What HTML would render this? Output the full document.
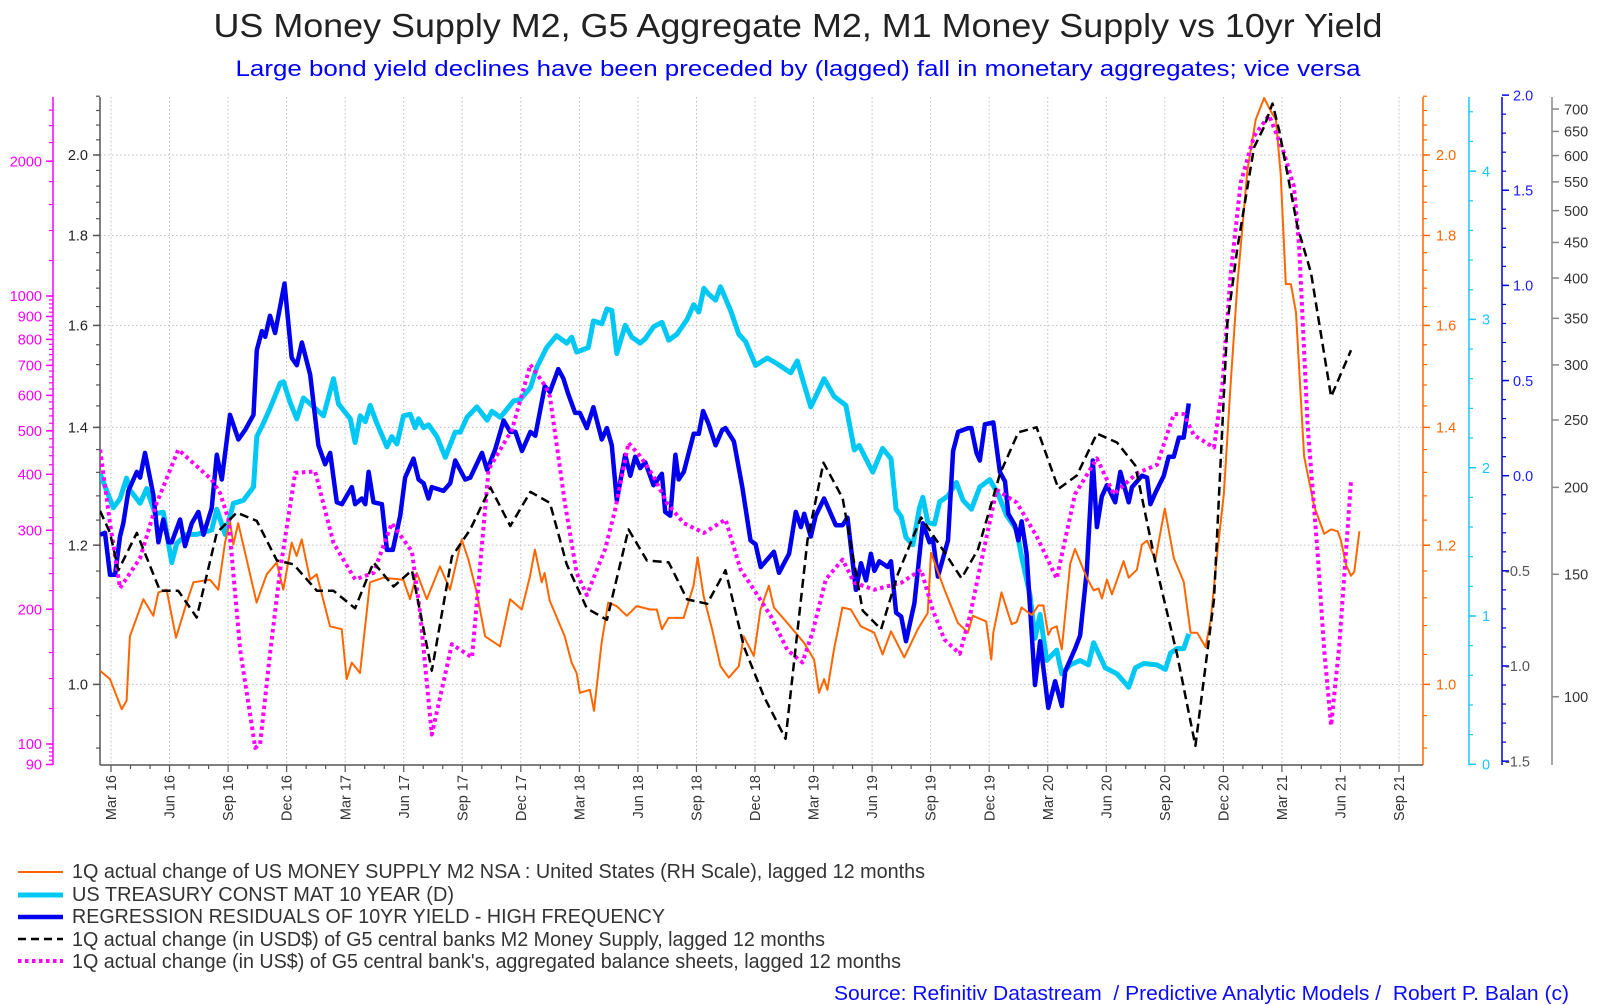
<!DOCTYPE html>
<html><head><meta charset="utf-8">
<style>
html,body{margin:0;padding:0;background:#fff;}
svg{display:block;font-family:"Liberation Sans",Arial,sans-serif;}
</style></head>
<body>
<svg id="chart" width="1600" height="1005" viewBox="0 0 1600 1005" xmlns="http://www.w3.org/2000/svg">
<rect x="0" y="0" width="1600" height="1005" fill="#fff"/>
<text x="798" y="37" text-anchor="middle" font-size="33" fill="#222" textLength="1169" lengthAdjust="spacingAndGlyphs">US Money Supply M2, G5 Aggregate M2, M1 Money Supply vs 10yr Yield</text>
<text x="798" y="76" text-anchor="middle" font-size="22" fill="#0000ff" textLength="1125" lengthAdjust="spacingAndGlyphs">Large bond yield declines have been preceded by (lagged) fall in monetary aggregates; vice versa</text>
<g id="grid"></g>
<g id="axes"></g>
<defs><clipPath id="plotclip"><rect x="100" y="96" width="1323" height="670"/></clipPath></defs>
<g id="series" clip-path="url(#plotclip)"></g>
<g id="legend">
  <line x1="18" y1="872" x2="63" y2="872" stroke="#ff6600" stroke-width="2"/>
  <text x="72" y="878" font-size="20.5" fill="#333" textLength="853" lengthAdjust="spacingAndGlyphs">1Q actual change of US MONEY SUPPLY M2 NSA : United States (RH Scale), lagged 12 months</text>
  <line x1="18" y1="895" x2="63" y2="895" stroke="#00c8f5" stroke-width="5"/>
  <text x="72" y="901" font-size="20.5" fill="#333" textLength="382" lengthAdjust="spacingAndGlyphs">US TREASURY CONST MAT 10 YEAR (D)</text>
  <line x1="18" y1="917" x2="63" y2="917" stroke="#0000ee" stroke-width="4.5"/>
  <text x="72" y="923" font-size="20.5" fill="#333" textLength="593" lengthAdjust="spacingAndGlyphs">REGRESSION RESIDUALS OF 10YR YIELD - HIGH FREQUENCY</text>
  <line x1="18" y1="939" x2="63" y2="939" stroke="#000" stroke-width="2.5" stroke-dasharray="8,5"/>
  <text x="72" y="946" font-size="20.5" fill="#333" textLength="753" lengthAdjust="spacingAndGlyphs">1Q actual change (in USD$) of G5 central banks M2 Money Supply, lagged 12 months</text>
  <line x1="18" y1="961" x2="63" y2="961" stroke="#ff00ff" stroke-width="4" stroke-dasharray="3.5,3.5"/>
  <text x="72" y="968" font-size="20.5" fill="#333" textLength="829" lengthAdjust="spacingAndGlyphs">1Q actual change (in US$) of G5 central bank's, aggregated balance sheets, lagged 12 months</text>
</g>
<text x="1569" y="1000" text-anchor="end" font-size="20" fill="#0a0aff" xml:space="preserve" style="white-space:pre" textLength="735" lengthAdjust="spacingAndGlyphs">Source: Refinitiv Datastream  / Predictive Analytic Models /  Robert P. Balan (c)</text>
</svg>
<script>
// ---- data: months since Mar-2016 and values ----
const quarterLabels = ["Mar 16","Jun 16","Sep 16","Dec 16","Mar 17","Jun 17","Sep 17","Dec 17","Mar 18","Jun 18","Sep 18","Dec 18","Mar 19","Jun 19","Sep 19","Dec 19","Mar 20","Jun 20","Sep 20","Dec 20","Mar 21","Jun 21","Sep 21"];
const leftTicks = [1.0,1.2,1.4,1.6,1.8,2.0];
const cyanTicks = [0,1,2,3,4];
const blueTicks = [2.0,1.5,1.0,0.5,0.0,-0.5,-1.0,-1.5];
const grayTicks = [700,650,600,550,500,450,400,350,300,250,200,150,100];
const magentaTicks = [2000,1000,900,800,700,600,500,400,300,200,100,90];

const orangeMonths = [-0.56,-0.05,0.55,0.80,0.97,1.66,2.17,2.43,2.85,3.33,3.88,4.22,5.07,5.50,5.84,6.10,6.27,6.52,6.95,7.46,7.98,8.49,8.83,9.26,9.51,9.77,10.20,10.54,11.22,11.82,12.08,12.34,12.76,13.27,13.96,14.98,15.32,15.67,16.18,16.86,17.37,17.97,18.31,18.74,19.17,19.94,20.45,21.05,21.47,21.72,22.07,22.22,22.48,23.25,23.60,23.86,24.03,24.54,24.75,25.14,25.48,25.91,26.43,26.94,27.63,27.97,28.23,28.57,29.34,29.85,30.06,30.37,30.80,31.23,31.66,32.17,32.42,32.94,33.28,33.71,33.97,34.65,35.51,36.03,36.28,36.54,36.71,37.05,37.48,37.91,38.42,39.11,39.54,39.97,40.65,41.34,41.85,42.02,42.71,43.39,43.91,44.16,44.85,45.11,45.21,45.63,46.15,46.41,46.66,47.18,47.52,47.78,48.03,48.20,48.46,48.72,49.15,49.40,50.00,50.35,50.60,50.78,51.03,51.29,51.89,52.15,52.57,52.83,53.09,53.52,54.00,54.46,54.97,55.32,55.66,56.09,56.35,56.69,57.03,57.37,57.72,58.23,58.66,59.09,59.43,59.69,59.94,60.20,60.46,60.72,61.14,61.66,62.17,62.52,62.86,63.03,63.29,63.54,63.71,63.97];
const orangeValues = [1.018,1.007,0.968,0.979,1.065,1.118,1.094,1.128,1.132,1.063,1.113,1.143,1.147,1.132,1.204,1.238,1.201,1.235,1.178,1.113,1.155,1.173,1.132,1.204,1.183,1.209,1.147,1.155,1.079,1.075,1.007,1.029,1.015,1.143,1.150,1.147,1.118,1.157,1.118,1.167,1.132,1.209,1.178,1.128,1.065,1.051,1.118,1.103,1.152,1.193,1.143,1.157,1.116,1.065,1.029,1.015,0.989,0.993,0.966,1.056,1.113,1.108,1.094,1.108,1.103,1.103,1.075,1.091,1.091,1.138,1.181,1.122,1.075,1.024,1.009,1.024,1.065,1.038,1.103,1.138,1.106,1.084,1.056,1.033,0.989,1.007,0.993,1.047,1.106,1.103,1.079,1.070,1.040,1.072,1.036,1.075,1.098,1.188,1.132,1.084,1.070,1.094,1.086,1.033,1.070,1.128,1.082,1.085,1.106,1.095,1.109,1.109,1.067,1.076,1.079,1.047,1.171,1.194,1.150,1.131,1.134,1.119,1.147,1.125,1.175,1.150,1.162,1.201,1.207,1.177,1.259,1.180,1.144,1.070,1.070,1.050,1.088,1.188,1.284,1.481,1.689,1.960,2.095,2.155,2.118,2.095,1.950,1.689,1.689,1.627,1.348,1.262,1.218,1.225,1.222,1.207,1.169,1.153,1.159,1.222];

const cyanMonths = [-0.56,0.12,0.46,0.80,0.97,1.49,1.83,2.26,2.68,3.11,3.37,3.88,4.39,5.16,5.42,5.85,6.27,6.79,7.30,7.47,7.81,8.15,8.67,8.84,9.18,9.52,9.86,10.21,10.55,10.89,11.40,11.66,12.26,12.51,12.77,13.03,13.28,13.62,14.14,14.39,14.65,14.99,15.33,15.59,15.76,16.02,16.27,16.70,17.13,17.64,17.90,18.24,18.75,19.27,19.52,19.95,20.63,20.97,21.49,21.83,22.32,22.83,23.35,23.61,23.86,24.46,24.72,25.15,25.41,25.66,25.92,26.35,26.69,27.12,27.38,27.80,28.23,28.58,29.00,29.52,29.86,30.12,30.38,30.63,30.98,31.23,31.75,32.17,32.52,33.03,33.63,34.15,34.83,35.17,35.43,35.86,36.54,37.06,37.66,38.09,38.34,39.03,39.54,39.97,40.23,40.49,40.74,41.09,41.43,41.60,41.86,42.20,42.46,42.89,43.32,43.66,44.09,44.52,45.03,45.46,45.89,46.41,46.66,47.09,47.35,47.61,47.95,48.46,48.72,49.15,49.66,50.09,50.35,50.95,51.55,52.15,52.49,52.92,53.60,54.03,54.29,54.63,54.97,55.23];
const cyanValues = [1.96,1.73,1.79,1.93,1.85,1.76,1.86,1.69,1.70,1.36,1.49,1.55,1.55,1.58,1.72,1.55,1.76,1.78,1.87,2.21,2.30,2.40,2.57,2.58,2.44,2.33,2.47,2.43,2.39,2.35,2.60,2.43,2.33,2.17,2.35,2.31,2.42,2.30,2.14,2.21,2.16,2.35,2.36,2.27,2.33,2.27,2.29,2.21,2.07,2.24,2.24,2.34,2.41,2.32,2.38,2.34,2.45,2.46,2.54,2.68,2.81,2.89,2.84,2.88,2.78,2.81,2.99,2.97,3.07,3.06,2.77,2.96,2.88,2.84,2.87,2.95,2.98,2.86,2.90,3.00,3.10,3.05,3.21,3.17,3.13,3.22,3.06,2.90,2.85,2.69,2.74,2.70,2.64,2.72,2.60,2.41,2.60,2.48,2.42,2.12,2.15,1.97,2.13,2.06,1.72,1.67,1.53,1.48,1.73,1.80,1.63,1.62,1.77,1.81,1.90,1.78,1.72,1.87,1.92,1.82,1.68,1.58,1.40,1.14,0.85,1.01,0.70,0.77,0.61,0.67,0.70,0.67,0.82,0.65,0.61,0.52,0.65,0.68,0.67,0.64,0.75,0.78,0.78,0.88];

const blueMonths = [-0.56,-0.31,-0.05,0.21,0.46,0.63,0.89,1.32,1.49,1.74,2.17,2.43,2.68,2.94,3.11,3.54,3.79,4.14,4.48,4.74,5.16,5.42,5.68,6.10,6.53,6.87,7.30,7.47,7.73,7.90,8.15,8.41,8.89,9.26,9.52,9.78,10.21,10.63,10.97,11.23,11.57,11.83,12.34,12.51,12.85,13.03,13.20,13.45,13.88,14.14,14.44,14.82,15.07,15.50,15.76,16.02,16.27,16.44,17.04,17.38,17.64,18.15,18.41,19.01,19.27,19.69,20.12,20.46,20.72,21.06,21.49,21.74,22.23,22.49,22.92,23.18,23.43,23.78,24.03,24.38,24.72,25.15,25.41,25.66,25.92,26.35,26.61,26.86,27.12,27.38,27.80,28.23,28.40,28.66,28.92,29.09,29.35,29.86,30.12,30.34,30.63,30.98,31.32,31.49,31.92,32.35,32.77,33.03,33.29,33.63,33.97,34.23,34.75,35.09,35.35,35.52,35.86,36.11,36.54,37.14,37.49,37.74,38.17,38.43,38.69,38.94,39.12,39.37,39.80,39.97,40.23,40.49,40.74,41.17,41.60,41.94,42.11,42.37,42.89,43.15,43.41,43.92,44.09,44.35,44.52,44.78,45.21,45.55,45.81,45.98,46.32,46.49,46.66,46.92,47.35,47.61,48.03,48.38,48.72,48.89,49.40,49.66,50.00,50.31,50.52,50.77,51.03,51.46,51.72,52.15,52.32,52.83,53.09,53.26,53.52,53.95,54.20,54.46,54.72,54.97,55.23];
const blueValues = [-0.31,-0.30,-0.52,-0.52,-0.32,-0.25,-0.08,0.02,-0.01,0.12,-0.10,-0.35,-0.23,-0.35,-0.35,-0.23,-0.37,-0.25,-0.19,-0.31,-0.17,0.11,-0.02,0.32,0.19,0.24,0.32,0.66,0.76,0.73,0.84,0.75,1.01,0.62,0.58,0.70,0.53,0.16,0.06,0.12,-0.14,-0.15,-0.06,-0.15,-0.12,-0.15,0.02,-0.14,-0.15,-0.39,-0.39,-0.21,-0.01,0.09,-0.02,-0.04,-0.12,-0.06,-0.08,-0.04,0.08,-0.02,-0.01,0.12,0.03,0.14,0.29,0.23,0.23,0.13,0.23,0.21,0.47,0.44,0.56,0.51,0.43,0.33,0.33,0.25,0.36,0.19,0.25,0.16,-0.13,0.11,0.00,0.10,0.04,0.07,-0.05,0.01,-0.19,-0.21,0.11,-0.02,0.02,0.22,0.22,0.34,0.27,0.16,0.24,0.25,0.18,-0.06,-0.34,-0.36,-0.48,-0.44,-0.40,-0.51,-0.41,-0.19,-0.27,-0.20,-0.32,-0.21,-0.12,-0.26,-0.26,-0.22,-0.60,-0.46,-0.55,-0.41,-0.50,-0.45,-0.48,-0.45,-0.72,-0.74,-0.87,-0.67,-0.25,-0.35,-0.33,-0.53,-0.34,0.13,0.23,0.25,0.25,0.12,0.08,0.27,0.28,0.02,-0.03,-0.20,-0.26,-0.34,-0.24,-0.41,-1.10,-0.87,-1.22,-1.08,-1.21,-1.03,-0.91,-0.84,-0.50,0.08,-0.27,-0.11,-0.05,-0.14,0.02,-0.14,-0.06,0.00,-0.01,-0.15,-0.09,0.00,0.10,0.10,0.20,0.20,0.38];

const blackMonths = [-0.56,-0.05,0.38,1.32,2.51,3.45,4.39,5.42,6.44,7.47,8.50,9.35,10.55,11.40,12.51,13.45,14.48,15.42,16.44,17.47,18.41,19.44,20.46,21.49,22.49,23.35,24.38,25.41,26.52,27.46,28.58,29.52,30.55,31.49,32.43,33.46,34.57,35.69,36.51,37.49,38.52,39.46,40.32,41.51,42.54,43.58,44.43,45.55,46.49,47.43,48.55,49.49,50.52,51.55,52.49,53.60,54.63,55.57,56.52,57.20,57.72,58.57,59.09,59.52,59.86,60.80,61.49,62.52,63.54];
const blackValues = [185,172,152,172,142,142,130,172,184,179,157,155,142,142,134,156,144,152,109,159,174,200,176,197,190,155,134,129,174,157,156,138,136,152,118,100,87,168,217,193,133,125,150,181,164,148,163,209,240,244,199,208,239,232,215,152,115,85,138,344,442,616,660,713,652,474,407,270,315];

const magentaMonths = [-0.56,-0.05,0.46,1.49,2.34,3.45,5.16,5.59,6.02,6.62,7.39,7.64,8.15,8.67,9.44,10.46,11.40,12.51,13.45,14.39,15.42,15.84,16.44,17.47,18.50,19.35,20.55,21.49,22.26,22.49,23.26,23.86,24.38,25.32,25.83,26.52,27.12,27.80,28.49,29.35,30.38,31.49,32.26,32.95,33.81,34.66,35.43,35.94,36.63,37.49,38.09,39.12,40.49,41.51,42.11,42.71,43.49,44.01,44.69,45.38,46.41,47.43,48.46,49.40,50.52,51.38,52.57,53.60,54.46,54.97,55.49,56.52,56.95,57.37,57.89,58.57,59.34,60.11,60.62,60.88,61.32,61.83,62.17,62.52,62.94,63.54];
const magentaValues = [454,311,223,260,345,454,389,363,317,162,98,100,159,245,403,406,281,233,241,311,269,196,105,167,156,410,503,703,629,597,345,241,215,272,333,470,439,396,345,311,296,317,245,221,193,162,152,177,233,258,229,221,229,245,199,171,159,193,267,369,346,291,234,361,434,361,402,420,545,545,489,459,634,1114,1791,2274,2532,2085,1754,1296,511,267,162,110,166,386];

// ---- scales ----
const NS = "http://www.w3.org/2000/svg";
const PL = 100, PR = 1423, PT = 97, PB = 765;
function xS(m){ return 111 + m*19.515; }
function yLeft(v){ return 684.4 - Math.log2(v)*529.4; }
function yCyan(v){ return 764.3 - v*148.3; }
function yBlue(v){ return 475.7 - v*190.3; }
function yGray(v){ return 696.7 - Math.log(v/100)*302; }
function yMag(v){ return 744 - Math.log10(v/100)*448; }

function mk(tag, attrs, parent){
  const e = document.createElementNS(NS, tag);
  for (const k in attrs) e.setAttribute(k, attrs[k]);
  parent.appendChild(e);
  return e;
}
const grid = document.getElementById('grid');
const axes = document.getElementById('axes');
const series = document.getElementById('series');

leftTicks.forEach(v => {
  const l = mk('line', {x1:PL, x2:PR, y1:yLeft(v), y2:yLeft(v), stroke:'#bdbdbd', 'stroke-width':1, 'stroke-dasharray':'1.5,2.5'}, grid);
  
  
});
quarterLabels.forEach((lab, i) => {
  const x = xS(i*3);
  const l = mk('line', {x1:x, x2:x, y1:PT, y2:PB, stroke:'#bdbdbd', 'stroke-width':1, 'stroke-dasharray':'1.5,2.5'}, grid);
  
  
});

const xa = mk('line', {x1:PL, x2:PR, y1:PB, y2:PB, stroke:'#555', 'stroke-width':1.5}, axes);


for (let m = 0; m <= 66; m++) {
  const x = xS(m);
  if (x > PR) break;
  const major = (m % 3 === 0);
  const t = mk('line', {x1:x, x2:x, y1:PB, y2:PB + (major ? 7 : 4), stroke:'#555', 'stroke-width':1.2}, axes);
  
  
}
quarterLabels.forEach((lab, i) => {
  const x = xS(i*3);
  const t = mk('text', {transform:`translate(${x},775) rotate(-90)`, 'text-anchor':'end', dy:'0.35em', 'font-size':'14.5', fill:'#333'}, axes);
  t.textContent = lab;
  
  
});

function vAxis(name, x, color, dir, ticksMajor, ticksMinor, yf, fmt, labelX, anchor, labelColor){
  const ln = mk('line', {x1:x, x2:x, y1:PT, y2:PB, stroke:color, 'stroke-width':1.5}, axes);
  
  
  ticksMinor.forEach(v => {
    const y = yf(v);
    if (y < PT-1 || y > PB+1) return;
    const t = mk('line', {x1:x, x2:x + dir*4, y1:y, y2:y, stroke:color, 'stroke-width':1.2}, axes);
    
    
  });
  ticksMajor.forEach(v => {
    const y = yf(v);
    const t = mk('line', {x1:x, x2:x + dir*7, y1:y, y2:y, stroke:color, 'stroke-width':1.5}, axes);
    
    
    const lc = (typeof labelColor === 'function') ? labelColor(v) : labelColor;
    const lx = (typeof labelX === 'function') ? labelX(v) : labelX;
    const tx = mk('text', {x:lx, y:y, dy:'0.36em', 'text-anchor':anchor, 'font-size':'14.5', fill:lc}, axes);
    tx.textContent = fmt(v);
    
    
  });
}
const leftMinor = [];
for (let v = 0.92; v <= 2.17; v += 0.04) leftMinor.push(+v.toFixed(2));
const magMinor = [];
for (let v = 90; v < 100; v += 2) magMinor.push(v);
for (let v = 100; v < 1000; v += 20) magMinor.push(v);
for (let v = 1000; v <= 2800; v += 200) magMinor.push(v);
const cyanMinor = [];
for (let v = 0; v <= 4.41; v += 0.2) cyanMinor.push(+v.toFixed(1));
const blueMinor = [];
for (let v = -1.5; v <= 2.0; v += 0.1) blueMinor.push(+v.toFixed(1));

vAxis('magenta-axis', 53, '#ff00ff', -1, magentaTicks, magMinor, yMag, v => String(v), 42, 'end', '#ff00ff');
vAxis('left-axis', 100, '#555', -1, leftTicks, leftMinor, yLeft, v => v.toFixed(1), 88, 'end', '#222');
vAxis('orange-axis', 1423, '#ff6600', 1, leftTicks, leftMinor, yLeft, v => v.toFixed(1), 1436, 'start', '#ff6600');
vAxis('cyan-axis', 1469, '#19c8f5', 1, cyanTicks, cyanMinor, yCyan, v => String(v), 1482, 'start', '#19c8f5');
vAxis('blue-axis', 1502, '#0000ee', 1, blueTicks, blueMinor, yBlue, v => v.toFixed(1), v => v < 0 ? 1505 : 1513, 'start', v => v < 0 ? '#555' : '#1a1aff');
vAxis('gray-axis', 1552, '#888', 1, grayTicks, [], yGray, v => String(v), 1564, 'start', '#333');

function drawLine(name, months, vals, yf, style){
  let d = '';
  months.forEach((m, i) => { d += (i ? 'L' : 'M') + xS(m).toFixed(1) + ',' + yf(vals[i]).toFixed(1); });
  const p = mk('path', Object.assign({d:d, fill:'none', 'stroke-linejoin':'round'}, style), series);
  
  
}
drawLine('series-us-10yr-treasury', cyanMonths, cyanValues, yCyan, {stroke:'#00c8f5', 'stroke-width':5});
drawLine('series-regression-residuals', blueMonths, blueValues, yBlue, {stroke:'#0000ee', 'stroke-width':4.5});
drawLine('series-us-m2-change', orangeMonths, orangeValues, yLeft, {stroke:'#ff6600', 'stroke-width':2});
drawLine('series-g5-balance-sheets', magentaMonths, magentaValues, yMag, {stroke:'#ff00ff', 'stroke-width':4, 'stroke-dasharray':'3.5,3.5'});
drawLine('series-g5-m2-change', blackMonths, blackValues, yGray, {stroke:'#000', 'stroke-width':2.5, 'stroke-dasharray':'9,5'});
</script>
</body></html>
